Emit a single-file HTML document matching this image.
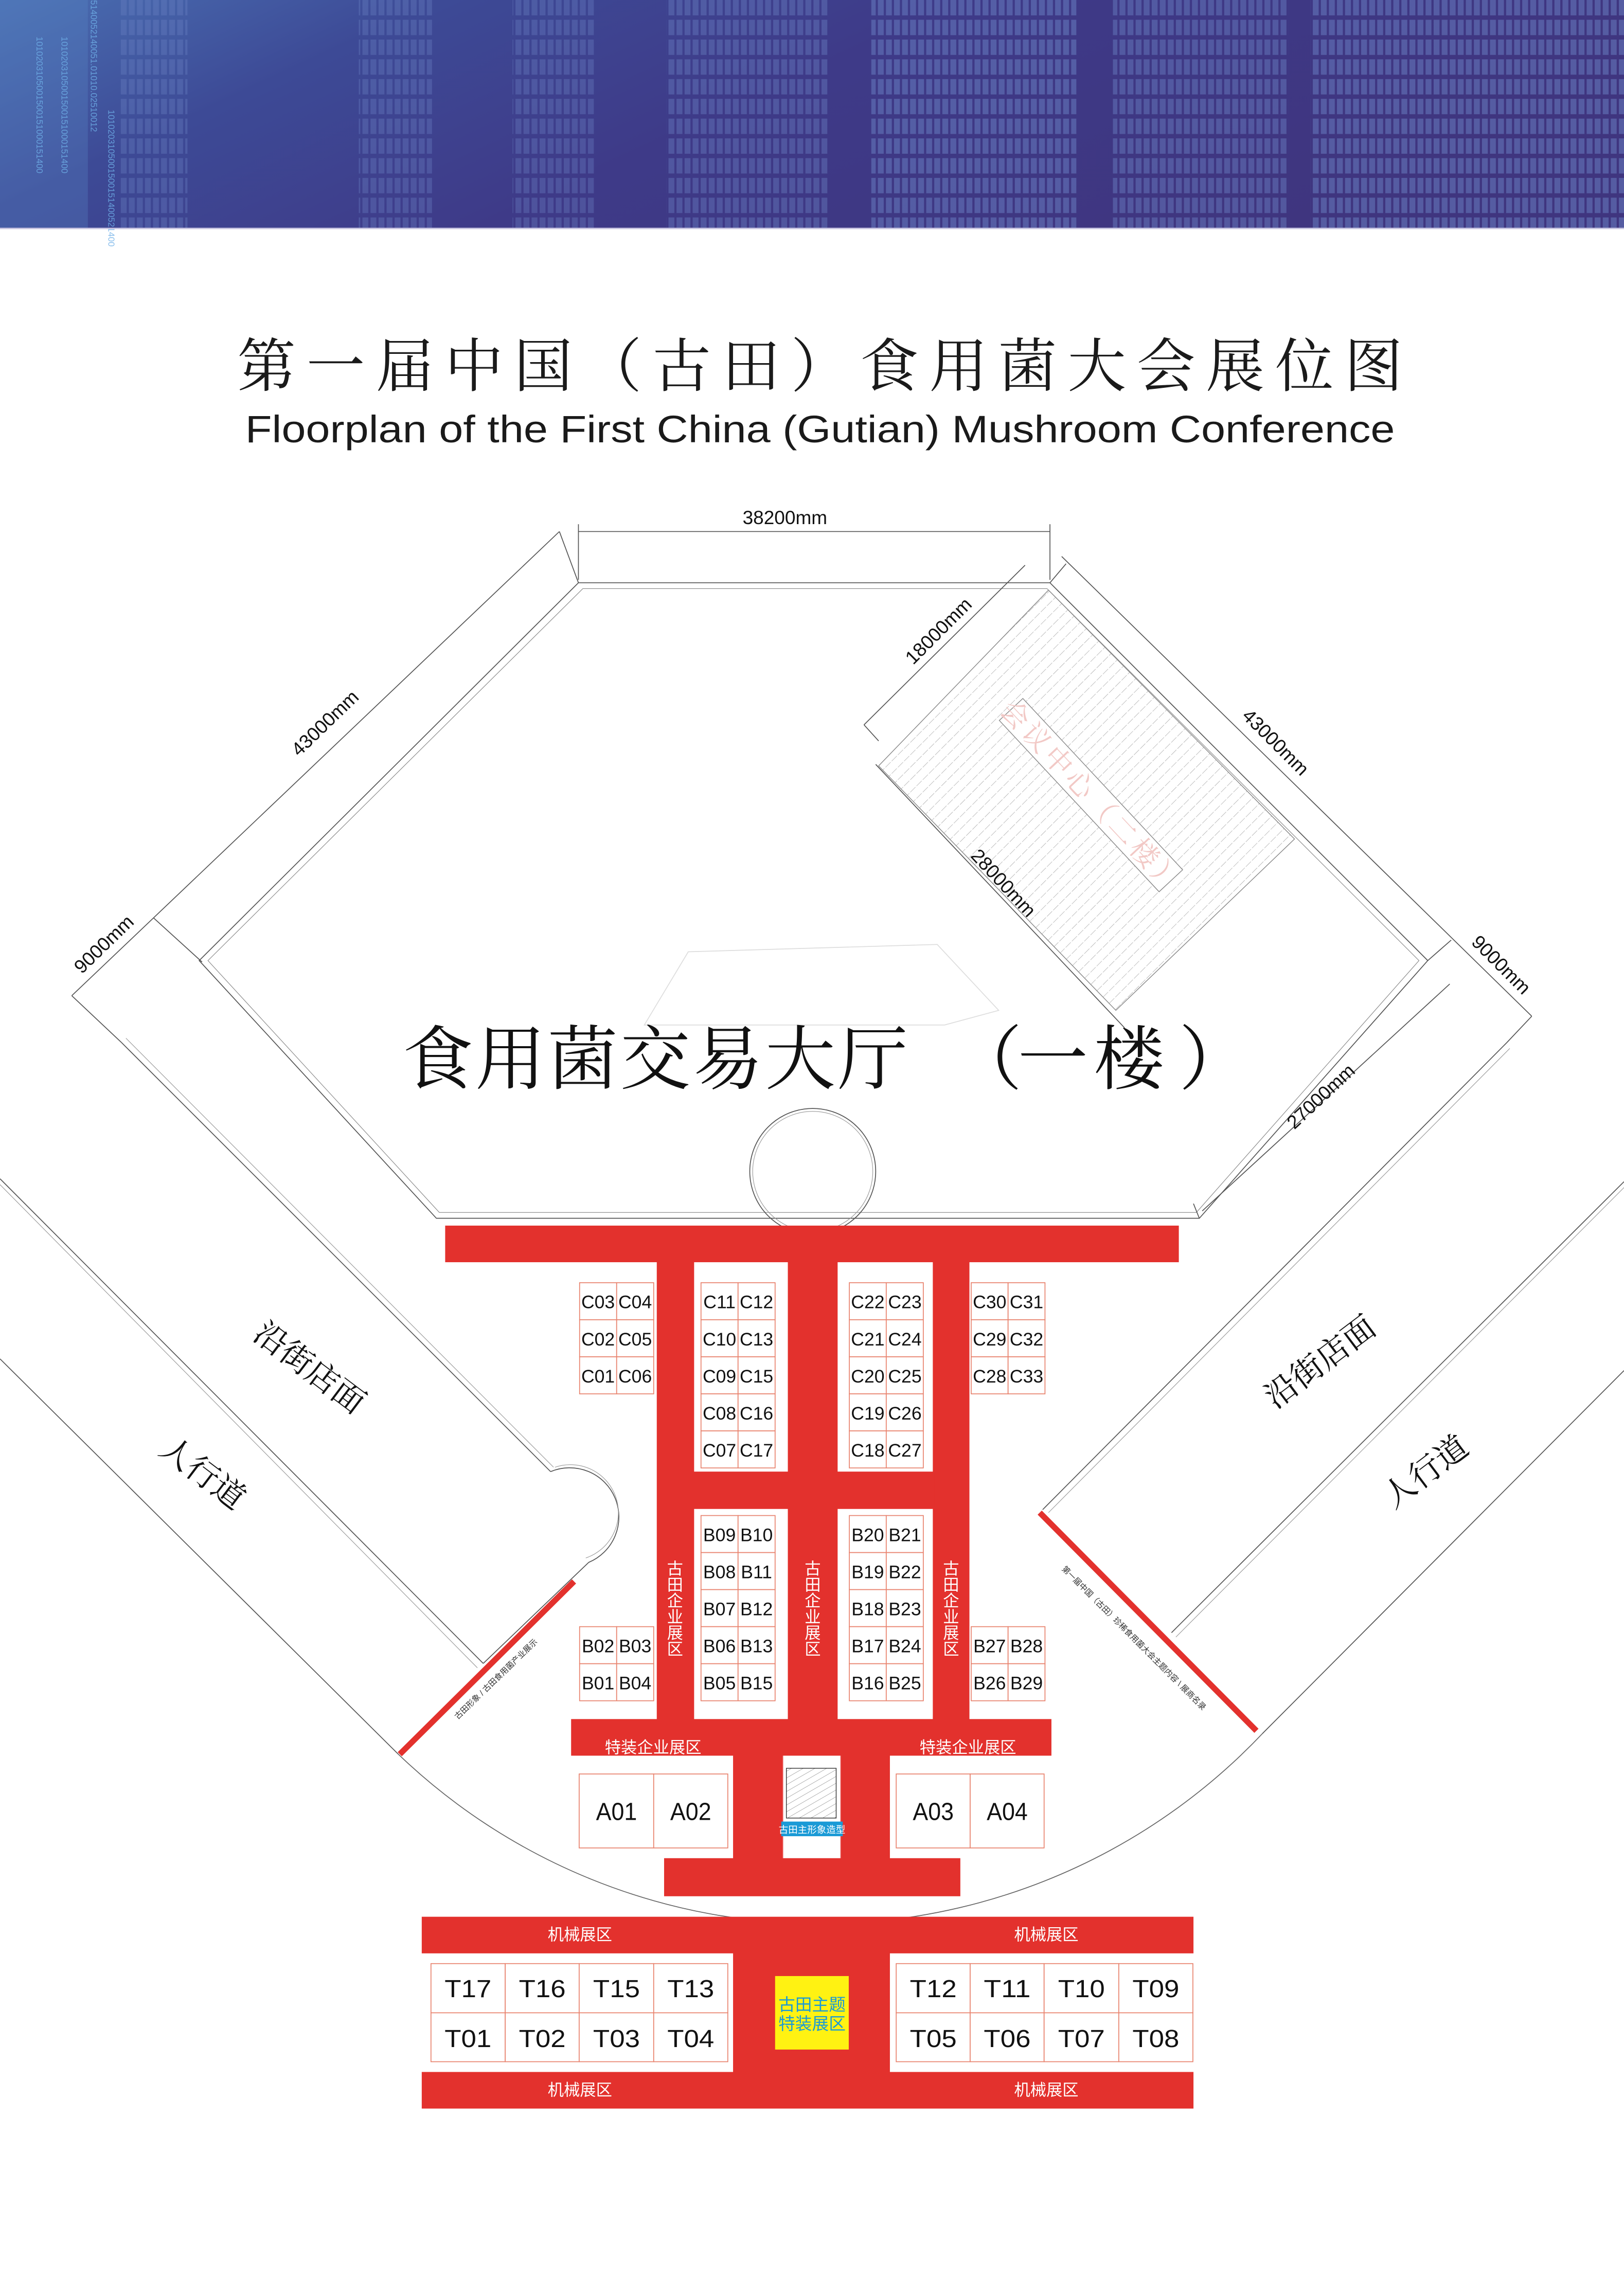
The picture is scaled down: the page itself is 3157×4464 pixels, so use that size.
<!DOCTYPE html>
<html><head><meta charset="utf-8"><style>
html,body{margin:0;padding:0;background:#fff;}
svg{display:block;}
.cj{font-family:"Liberation Sans","Noto Sans CJK SC",sans-serif;}
.sr{font-family:"Liberation Serif","Noto Serif CJK SC",serif;}
</style></head><body>
<svg xmlns="http://www.w3.org/2000/svg" width="3157" height="4464" viewBox="0 0 1109 1568" preserveAspectRatio="none">
<defs>
<linearGradient id="bg" x1="0" y1="0" x2="1" y2="0.3">
<stop offset="0" stop-color="#4a6fb2"/><stop offset="0.25" stop-color="#3d4a96"/><stop offset="0.55" stop-color="#3e3a88"/><stop offset="1" stop-color="#3f357f"/>
</linearGradient>
<pattern id="bars" width="5.5" height="13.5" patternUnits="userSpaceOnUse"><rect x="0" y="0" width="4" height="10.5" fill="#6b82c4"/></pattern>
<pattern id="hatch" width="6" height="6" patternUnits="userSpaceOnUse" patternTransform="rotate(45)"><line x1="0" y1="0" x2="0" y2="6" stroke="#9a9a9a" stroke-width="0.45" stroke-dasharray="3 1"/></pattern>
<pattern id="hatch2" width="4" height="4" patternUnits="userSpaceOnUse" patternTransform="rotate(60)"><line x1="0" y1="0" x2="0" y2="4" stroke="#777" stroke-width="0.4"/></pattern>
</defs>
<!-- banner -->
<rect x="0" y="0" width="1109" height="156" fill="url(#bg)"/>
<rect x="82" y="0" width="46" height="156" fill="url(#bars)" opacity="0.35"/>
<rect x="245" y="0" width="50" height="156" fill="url(#bars)" opacity="0.35"/>
<rect x="350" y="0" width="56" height="156" fill="url(#bars)" opacity="0.35"/>
<rect x="455" y="0" width="110" height="156" fill="url(#bars)" opacity="0.4"/>
<rect x="595" y="0" width="140" height="156" fill="url(#bars)" opacity="0.5"/>
<rect x="760" y="0" width="120" height="156" fill="url(#bars)" opacity="0.45"/>
<rect x="895" y="0" width="214" height="156" fill="url(#bars)" opacity="0.5"/>
<rect x="0" y="0" width="60" height="156" fill="#5a88c8" opacity="0.3"/>
<g fill="#6fb0e8" font-family="Liberation Sans,sans-serif" font-size="6" opacity="0.8">
<text transform="translate(25,25) rotate(90)">1010203105001500151000151400</text>
<text transform="translate(42,25) rotate(90)">1010203105001500151000151400</text>
<text transform="translate(62,0) rotate(90)">5140052140051.01010.02510012</text>
<text transform="translate(74,75) rotate(90)">1010203105001500151400521400</text>
</g>
<line x1="0" y1="156" x2="1109" y2="156" stroke="#c7c3e0" stroke-width="1"/>

<!-- titles -->
<text x="560" y="264" text-anchor="middle" class="sr" font-size="40" textLength="796" lengthAdjust="spacing" fill="#1a1a1a">第一届中国（古田）食用菌大会展位图</text>
<text x="560" y="302" text-anchor="middle" font-family="Liberation Sans,sans-serif" font-size="26" textLength="785" lengthAdjust="spacingAndGlyphs" fill="#1a1a1a">Floorplan of the First China (Gutian) Mushroom Conference</text>

<!-- structure lines -->
<g fill="none" stroke="#555" stroke-width="0.6">
<!-- hall -->
<polygon points="395,398 717,398 975,656 819,832 298,832 136,656"/>
<polygon points="398,402 715,402 969,656 817,828 300,828 142,656" stroke="#888" stroke-width="0.4"/>
<circle cx="555" cy="800" r="43"/>
<circle cx="555" cy="800" r="41" stroke="#999" stroke-width="0.4"/>
<!-- left strips -->
<polyline points="83,712 376,1005"/>
<polyline points="86,709 378,1002" stroke="#999" stroke-width="0.4"/>
<path d="M376,1005 A33,33 0 1 1 402,1067 L330,1136"/>
<path d="M379,1002 A30,30 0 1 1 400,1064" stroke="#999" stroke-width="0.4"/>
<polyline points="0,805 330,1136"/>
<polyline points="0,809 326,1139" stroke="#999" stroke-width="0.4"/>
<polyline points="0,928 272,1198"/>
<!-- right strips -->
<polyline points="712,1031 1029,712"/>
<polyline points="716,1033 1031,716" stroke="#999" stroke-width="0.4"/>
<polyline points="800,1115 1109,807"/>
<polyline points="803,1118 1109,811" stroke="#999" stroke-width="0.4"/>
<polyline points="862,1184 1109,936"/>
<!-- big arc -->
<path d="M272,1198 A416,416 0 0 0 862,1184" stroke="#666"/>
<!-- dims -->
<line x1="395" y1="363" x2="717" y2="363"/>
<line x1="395" y1="358" x2="395" y2="396"/><line x1="717" y1="358" x2="717" y2="396"/>
<line x1="49" y1="680" x2="382" y2="363"/>
<line x1="382" y1="363" x2="395" y2="398"/>
<line x1="105" y1="627" x2="138" y2="657"/>
<line x1="49" y1="680" x2="83" y2="712"/>
<line x1="725" y1="380" x2="1046" y2="694"/>
<line x1="717" y1="398" x2="728" y2="385"/>
<line x1="1046" y1="694" x2="1029" y2="712"/>
<line x1="975" y1="656" x2="991" y2="642"/>
<line x1="700" y1="386" x2="590" y2="495"/>
<line x1="590" y1="495" x2="600" y2="506"/>
<line x1="598" y1="522" x2="768" y2="702"/>
<line x1="821" y1="827" x2="990" y2="672"/>
<line x1="819" y1="832" x2="815" y2="822"/>
</g>
<!-- faint inner shape -->
<polygon points="440,700 470,650 640,645 682,690 645,700" fill="none" stroke="#ddd" stroke-width="0.6"/>
<!-- meeting hatched -->
<polygon points="716,403 884,573 762,690 600,523" fill="url(#hatch)" stroke="#888" stroke-width="0.5"/>
<g transform="translate(745,543) rotate(47)">
<rect x="-80" y="-11" width="160" height="22" fill="#fff" stroke="#888" stroke-width="0.5"/>
<text x="0" y="7" text-anchor="middle" class="sr" font-size="19" fill="#f2c9c6" textLength="170" lengthAdjust="spacing">会议中心（二楼）</text>
</g>

<!-- dim labels -->
<g font-family="Liberation Sans,sans-serif" font-size="13" fill="#111">
<text x="536" y="358" text-anchor="middle">38200mm</text>
<text transform="translate(225,497) rotate(-44)" text-anchor="middle">43000mm</text>
<text transform="translate(74,648) rotate(-44)" text-anchor="middle">9000mm</text>
<text transform="translate(644,434) rotate(-45)" text-anchor="middle">18000mm</text>
<text transform="translate(868,510) rotate(45)" text-anchor="middle">43000mm</text>
<text transform="translate(682,606) rotate(47)" text-anchor="middle">28000mm</text>
<text transform="translate(1022,662) rotate(45)" text-anchor="middle">9000mm</text>
<text transform="translate(905,752) rotate(-43)" text-anchor="middle">27000mm</text>
</g>

<!-- hall title -->
<g class="sr" font-size="48" fill="#111">
<text x="275" y="740" textLength="345" lengthAdjust="spacing">食用菌交易大厅</text>
<text x="650" y="740">（</text>
<text x="695" y="740" textLength="100" lengthAdjust="spacing">一楼</text>
<text x="805" y="740">）</text>
</g>
<!-- side labels -->
<g class="sr" font-size="22" fill="#111">
<text transform="translate(207,940) rotate(37)" text-anchor="middle">沿街店面</text>
<text transform="translate(134,1012) rotate(37)" text-anchor="middle">人行道</text>
<text transform="translate(906,936) rotate(-37)" text-anchor="middle">沿街店面</text>
<text transform="translate(978,1011) rotate(-37)" text-anchor="middle">人行道</text>
</g>
<!-- red lines -->
<line x1="273" y1="1198" x2="392" y2="1080" stroke="#e3312d" stroke-width="4"/>
<line x1="710" y1="1033" x2="858" y2="1182" stroke="#e3312d" stroke-width="4"/>
<text transform="translate(340,1148) rotate(-44)" text-anchor="middle" class="cj" font-size="5.5" fill="#333">古田形象 / 古田食用菌产业展示</text>
<text transform="translate(773,1120) rotate(45)" text-anchor="middle" class="cj" font-size="5.5" fill="#333">第一届中国（古田）珍稀食用菌大会主题内容 \ 展商名录</text>

<!-- red aisles -->
<g fill="#e3312d">
<rect x="304" y="837" width="501" height="25"/>
<rect x="448.5" y="861" width="25.5" height="314"/>
<rect x="538" y="861" width="34" height="314"/>
<rect x="637" y="861" width="25" height="314"/>
<rect x="473" y="1005" width="165" height="25.5"/>
<rect x="390" y="1174" width="328" height="25"/>
<rect x="500.6" y="1198" width="34.1" height="72"/>
<rect x="574" y="1198" width="33.7" height="72"/>
<rect x="453.5" y="1269" width="202.3" height="26"/>
<rect x="288" y="1309" width="527" height="25"/>
<rect x="500.6" y="1333" width="107.1" height="83"/>
<rect x="288" y="1415" width="527" height="25"/>
</g>
<line x1="534.7" y1="1199" x2="534.7" y2="1269" stroke="#e88" stroke-width="0.4"/>
<line x1="574" y1="1199" x2="574" y2="1269" stroke="#e88" stroke-width="0.4"/>
<rect x="537" y="1207.6" width="34" height="34" fill="url(#hatch2)" stroke="#333" stroke-width="0.5"/>
<rect x="533.5" y="1244" width="42" height="10" fill="#1a9ad6"/>
<text x="554.5" y="1251.8" text-anchor="middle" class="cj" font-size="6.5" fill="#fff">古田主形象造型</text>
<rect x="529.3" y="1349.5" width="50.3" height="50.2" fill="#fff212"/>
<text x="554.5" y="1373" text-anchor="middle" class="cj" font-size="11.5" fill="#1a9ad6">古田主题</text>
<text x="554.5" y="1386" text-anchor="middle" class="cj" font-size="11.5" fill="#1a9ad6">特装展区</text>

<!-- aisle labels -->
<g class="cj" font-size="11" fill="#fff" text-anchor="middle">
<text x="446" y="1197">特装企业展区</text>
<text x="661" y="1197">特装企业展区</text>
<text x="396" y="1325">机械展区</text>
<text x="714.5" y="1325">机械展区</text>
<text x="396" y="1431">机械展区</text>
<text x="714.5" y="1431">机械展区</text>
</g>
<g class="cj" font-size="11" fill="#fff" text-anchor="middle">
<text x="461" y="1075">古</text><text x="461" y="1086">田</text><text x="461" y="1097">企</text><text x="461" y="1108">业</text><text x="461" y="1119">展</text><text x="461" y="1130">区</text>
<text x="555" y="1075">古</text><text x="555" y="1086">田</text><text x="555" y="1097">企</text><text x="555" y="1108">业</text><text x="555" y="1119">展</text><text x="555" y="1130">区</text>
<text x="649.5" y="1075">古</text><text x="649.5" y="1086">田</text><text x="649.5" y="1097">企</text><text x="649.5" y="1108">业</text><text x="649.5" y="1119">展</text><text x="649.5" y="1130">区</text>
</g>

<!-- booths -->
<g fill="#fff" stroke="#e8836e" stroke-width="0.6">
<!-- C left -->
<rect x="395.8" y="876" width="25.3" height="25.3"/><rect x="421.1" y="876" width="25.3" height="25.3"/>
<rect x="395.8" y="901.3" width="25.3" height="25.3"/><rect x="421.1" y="901.3" width="25.3" height="25.3"/>
<rect x="395.8" y="926.6" width="25.3" height="25.3"/><rect x="421.1" y="926.6" width="25.3" height="25.3"/>
<!-- C right -->
<rect x="663.2" y="876" width="25.2" height="25.3"/><rect x="688.4" y="876" width="25.2" height="25.3"/>
<rect x="663.2" y="901.3" width="25.2" height="25.3"/><rect x="688.4" y="901.3" width="25.2" height="25.3"/>
<rect x="663.2" y="926.6" width="25.2" height="25.3"/><rect x="688.4" y="926.6" width="25.2" height="25.3"/>
</g>
<g fill="#fff" stroke="#e8836e" stroke-width="0.6">
<!-- C mid -->
<rect x="478.7" y="876" width="25.3" height="25.3"/><rect x="504" y="876" width="25.3" height="25.3"/>
<rect x="478.7" y="901.3" width="25.3" height="25.3"/><rect x="504" y="901.3" width="25.3" height="25.3"/>
<rect x="478.7" y="926.6" width="25.3" height="25.3"/><rect x="504" y="926.6" width="25.3" height="25.3"/>
<rect x="478.7" y="951.9" width="25.3" height="25.3"/><rect x="504" y="951.9" width="25.3" height="25.3"/>
<rect x="478.7" y="977.2" width="25.3" height="25.3"/><rect x="504" y="977.2" width="25.3" height="25.3"/>
<rect x="580" y="876" width="25.2" height="25.3"/><rect x="605.2" y="876" width="25.3" height="25.3"/>
<rect x="580" y="901.3" width="25.2" height="25.3"/><rect x="605.2" y="901.3" width="25.3" height="25.3"/>
<rect x="580" y="926.6" width="25.2" height="25.3"/><rect x="605.2" y="926.6" width="25.3" height="25.3"/>
<rect x="580" y="951.9" width="25.2" height="25.3"/><rect x="605.2" y="951.9" width="25.3" height="25.3"/>
<rect x="580" y="977.2" width="25.2" height="25.3"/><rect x="605.2" y="977.2" width="25.3" height="25.3"/>
<!-- B mid -->
<rect x="478.7" y="1035" width="25.3" height="25.3"/><rect x="504" y="1035" width="25.3" height="25.3"/>
<rect x="478.7" y="1060.3" width="25.3" height="25.3"/><rect x="504" y="1060.3" width="25.3" height="25.3"/>
<rect x="478.7" y="1085.6" width="25.3" height="25.3"/><rect x="504" y="1085.6" width="25.3" height="25.3"/>
<rect x="478.7" y="1110.9" width="25.3" height="25.3"/><rect x="504" y="1110.9" width="25.3" height="25.3"/>
<rect x="478.7" y="1136.2" width="25.3" height="25.3"/><rect x="504" y="1136.2" width="25.3" height="25.3"/>
<rect x="580" y="1035" width="25.2" height="25.3"/><rect x="605.2" y="1035" width="25.3" height="25.3"/>
<rect x="580" y="1060.3" width="25.2" height="25.3"/><rect x="605.2" y="1060.3" width="25.3" height="25.3"/>
<rect x="580" y="1085.6" width="25.2" height="25.3"/><rect x="605.2" y="1085.6" width="25.3" height="25.3"/>
<rect x="580" y="1110.9" width="25.2" height="25.3"/><rect x="605.2" y="1110.9" width="25.3" height="25.3"/>
<rect x="580" y="1136.2" width="25.2" height="25.3"/><rect x="605.2" y="1136.2" width="25.3" height="25.3"/>
<!-- B sides -->
<rect x="395.8" y="1110.9" width="25.3" height="25.3"/><rect x="421.1" y="1110.9" width="25.3" height="25.3"/>
<rect x="395.8" y="1136.2" width="25.3" height="25.3"/><rect x="421.1" y="1136.2" width="25.3" height="25.3"/>
<rect x="663.2" y="1110.9" width="25.2" height="25.3"/><rect x="688.4" y="1110.9" width="25.2" height="25.3"/>
<rect x="663.2" y="1136.2" width="25.2" height="25.3"/><rect x="688.4" y="1136.2" width="25.2" height="25.3"/>
<!-- A -->
<rect x="395.5" y="1211.5" width="50.9" height="50.5"/><rect x="446.4" y="1211.5" width="50.6" height="50.5"/>
<rect x="612" y="1211.5" width="50.5" height="50.5"/><rect x="662.5" y="1211.5" width="50.5" height="50.5"/>
<!-- T -->
<rect x="294.3" y="1341" width="50.7" height="33.6"/><rect x="345" y="1341" width="50.5" height="33.6"/><rect x="395.5" y="1341" width="50.9" height="33.6"/><rect x="446.4" y="1341" width="50.6" height="33.6"/>
<rect x="294.3" y="1374.6" width="50.7" height="33.4"/><rect x="345" y="1374.6" width="50.5" height="33.4"/><rect x="395.5" y="1374.6" width="50.9" height="33.4"/><rect x="446.4" y="1374.6" width="50.6" height="33.4"/>
<rect x="612" y="1341" width="50.5" height="33.6"/><rect x="662.5" y="1341" width="50.5" height="33.6"/><rect x="713" y="1341" width="51" height="33.6"/><rect x="764" y="1341" width="50.6" height="33.6"/>
<rect x="612" y="1374.6" width="50.5" height="33.4"/><rect x="662.5" y="1374.6" width="50.5" height="33.4"/><rect x="713" y="1374.6" width="51" height="33.4"/><rect x="764" y="1374.6" width="50.6" height="33.4"/>
</g>

<g font-family="Liberation Sans,sans-serif" font-size="12.5" fill="#111" text-anchor="middle">
<text x="408.4" y="893.5">C03</text><text x="433.7" y="893.5">C04</text>
<text x="408.4" y="918.8">C02</text><text x="433.7" y="918.8">C05</text>
<text x="408.4" y="944.1">C01</text><text x="433.7" y="944.1">C06</text>
<text x="675.8" y="893.5">C30</text><text x="701" y="893.5">C31</text>
<text x="675.8" y="918.8">C29</text><text x="701" y="918.8">C32</text>
<text x="675.8" y="944.1">C28</text><text x="701" y="944.1">C33</text>
<text x="491.3" y="893.5">C11</text><text x="516.6" y="893.5">C12</text>
<text x="491.3" y="918.8">C10</text><text x="516.6" y="918.8">C13</text>
<text x="491.3" y="944.1">C09</text><text x="516.6" y="944.1">C15</text>
<text x="491.3" y="969.4">C08</text><text x="516.6" y="969.4">C16</text>
<text x="491.3" y="994.7">C07</text><text x="516.6" y="994.7">C17</text>
<text x="592.6" y="893.5">C22</text><text x="617.9" y="893.5">C23</text>
<text x="592.6" y="918.8">C21</text><text x="617.9" y="918.8">C24</text>
<text x="592.6" y="944.1">C20</text><text x="617.9" y="944.1">C25</text>
<text x="592.6" y="969.4">C19</text><text x="617.9" y="969.4">C26</text>
<text x="592.6" y="994.7">C18</text><text x="617.9" y="994.7">C27</text>
<text x="491.3" y="1052.5">B09</text><text x="516.6" y="1052.5">B10</text>
<text x="491.3" y="1077.8">B08</text><text x="516.6" y="1077.8">B11</text>
<text x="491.3" y="1103.1">B07</text><text x="516.6" y="1103.1">B12</text>
<text x="491.3" y="1128.4">B06</text><text x="516.6" y="1128.4">B13</text>
<text x="491.3" y="1153.7">B05</text><text x="516.6" y="1153.7">B15</text>
<text x="592.6" y="1052.5">B20</text><text x="617.9" y="1052.5">B21</text>
<text x="592.6" y="1077.8">B19</text><text x="617.9" y="1077.8">B22</text>
<text x="592.6" y="1103.1">B18</text><text x="617.9" y="1103.1">B23</text>
<text x="592.6" y="1128.4">B17</text><text x="617.9" y="1128.4">B24</text>
<text x="592.6" y="1153.7">B16</text><text x="617.9" y="1153.7">B25</text>
<text x="408.4" y="1128.4">B02</text><text x="433.7" y="1128.4">B03</text>
<text x="408.4" y="1153.7">B01</text><text x="433.7" y="1153.7">B04</text>
<text x="675.8" y="1128.4">B27</text><text x="701" y="1128.4">B28</text>
<text x="675.8" y="1153.7">B26</text><text x="701" y="1153.7">B29</text>
</g>
<g font-family="Liberation Sans Narrow,Liberation Sans,sans-serif" font-size="17" fill="#111" text-anchor="middle">
<text x="421" y="1243" textLength="28" lengthAdjust="spacingAndGlyphs">A01</text>
<text x="471.7" y="1243" textLength="28" lengthAdjust="spacingAndGlyphs">A02</text>
<text x="637.3" y="1243" textLength="28" lengthAdjust="spacingAndGlyphs">A03</text>
<text x="687.8" y="1243" textLength="28" lengthAdjust="spacingAndGlyphs">A04</text>
<text x="319.6" y="1364" textLength="32" lengthAdjust="spacingAndGlyphs">T17</text>
<text x="370.3" y="1364" textLength="32" lengthAdjust="spacingAndGlyphs">T16</text>
<text x="421" y="1364" textLength="32" lengthAdjust="spacingAndGlyphs">T15</text>
<text x="471.7" y="1364" textLength="32" lengthAdjust="spacingAndGlyphs">T13</text>
<text x="319.6" y="1398" textLength="32" lengthAdjust="spacingAndGlyphs">T01</text>
<text x="370.3" y="1398" textLength="32" lengthAdjust="spacingAndGlyphs">T02</text>
<text x="421" y="1398" textLength="32" lengthAdjust="spacingAndGlyphs">T03</text>
<text x="471.7" y="1398" textLength="32" lengthAdjust="spacingAndGlyphs">T04</text>
<text x="637.3" y="1364" textLength="32" lengthAdjust="spacingAndGlyphs">T12</text>
<text x="687.8" y="1364" textLength="32" lengthAdjust="spacingAndGlyphs">T11</text>
<text x="738.5" y="1364" textLength="32" lengthAdjust="spacingAndGlyphs">T10</text>
<text x="789.3" y="1364" textLength="32" lengthAdjust="spacingAndGlyphs">T09</text>
<text x="637.3" y="1398" textLength="32" lengthAdjust="spacingAndGlyphs">T05</text>
<text x="687.8" y="1398" textLength="32" lengthAdjust="spacingAndGlyphs">T06</text>
<text x="738.5" y="1398" textLength="32" lengthAdjust="spacingAndGlyphs">T07</text>
<text x="789.3" y="1398" textLength="32" lengthAdjust="spacingAndGlyphs">T08</text>
</g>
</svg>
</body></html>
